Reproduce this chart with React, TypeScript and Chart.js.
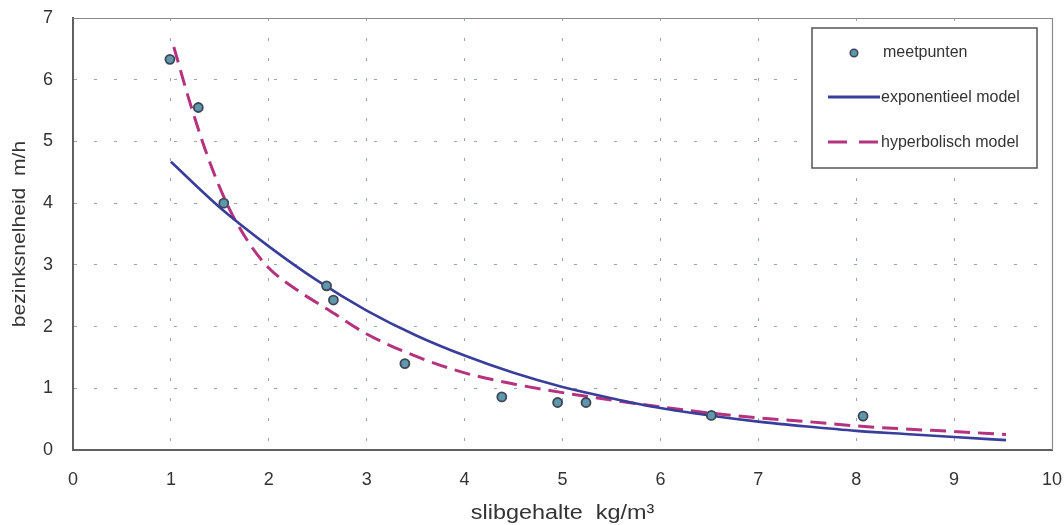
import React, { useEffect, useRef } from "react";
import { Chart, registerables } from "chart.js";

Chart.register(...registerables);

// measured points (meetpunten)
const measX = [0.99, 1.28, 1.54, 2.59, 2.66, 3.39, 4.38, 4.95, 5.24, 6.52, 8.07];
const measY = [6.33, 5.55, 4.0, 2.66, 2.43, 1.4, 0.86, 0.77, 0.77, 0.56, 0.55];

// exponential model
const expX = [1, 1.5, 2, 2.5, 3, 3.5, 4, 4.5, 5, 5.5, 6, 6.5, 7, 7.5, 8, 8.5, 9, 9.53];
const expY = [4.67, 3.93, 3.3, 2.74, 2.26, 1.86, 1.53, 1.25, 1.02, 0.84, 0.68, 0.56, 0.46, 0.38, 0.31, 0.26, 0.21, 0.16];

// hyperbolic model
const hypX = [1.03, 1.2, 1.4, 1.6, 1.8, 2.0, 2.3, 2.6, 3.0, 3.5, 4.0, 4.5, 5.0, 5.5, 6.0, 6.5, 7.0, 7.5, 8.0, 8.5, 9.0, 9.53];
const hypY = [6.53, 5.6, 4.65, 3.9, 3.35, 2.95, 2.58, 2.28, 1.88, 1.52, 1.25, 1.07, 0.93, 0.81, 0.7, 0.6, 0.52, 0.46, 0.39, 0.34, 0.3, 0.25];

const legendLabels = ["meetpunten", "exponentieel model", "hyperbolisch model"];
const xTitle = "slibgehalte  kg/m\u00B3";
const yTitle = "bezinksnelheid  m/h";

const BLUE = "#393e9b";
const MAGENTA = "#b5327e";
const POINT_FILL = "#5f97ad";
const POINT_BORDER = "#3e4756";
const GRID = "#98a3c2";
const TEXT = "#333333";
const AXIS = "#606060";
const FONT = "'Liberation Sans', Arial, sans-serif";

const framePlugin = {
  id: "frame",
  afterDraw(chart: any) {
    const { ctx, chartArea } = chart;
    const { left, right, top, bottom } = chartArea;
    ctx.save();
    ctx.strokeStyle = "#8a8a8a";
    ctx.lineWidth = 1.2;
    ctx.beginPath();
    ctx.moveTo(left, top + 0.5);
    ctx.lineTo(right + 0.5, top + 0.5);
    ctx.lineTo(right + 0.5, bottom);
    ctx.stroke();

    // axis titles
    ctx.fillStyle = TEXT;
    ctx.textBaseline = "alphabetic";
    ctx.textAlign = "center";
    ctx.font = `20px ${FONT}`;
    ctx.save();
    ctx.translate((left + right) / 2, 519);
    ctx.scale(1.17, 1);
    ctx.fillText(xTitle, 0, 0);
    ctx.restore();

    ctx.font = `19px ${FONT}`;
    ctx.save();
    ctx.translate(25, (top + bottom) / 2);
    ctx.rotate(-Math.PI / 2);
    ctx.scale(1.11, 1);
    ctx.fillText(yTitle, 0, 0);
    ctx.restore();

    // legend box
    const bx = 812, by = 28, bw = 225, bh = 140;
    ctx.fillStyle = "#ffffff";
    ctx.fillRect(bx, by, bw, bh);
    ctx.strokeStyle = "#555555";
    ctx.lineWidth = 1.5;
    ctx.strokeRect(bx, by, bw, bh);

    ctx.font = `16px ${FONT}`;
    ctx.fillStyle = TEXT;
    ctx.textBaseline = "middle";
    ctx.textAlign = "left";

    // row 1: marker
    ctx.beginPath();
    ctx.arc(854, 53, 3.8, 0, Math.PI * 2);
    ctx.fillStyle = POINT_FILL;
    ctx.fill();
    ctx.strokeStyle = POINT_BORDER;
    ctx.lineWidth = 1.5;
    ctx.stroke();
    ctx.fillStyle = TEXT;
    ctx.fillText(legendLabels[0], 883, 53);

    // row 2: solid line
    ctx.strokeStyle = BLUE;
    ctx.lineWidth = 3;
    ctx.beginPath();
    ctx.moveTo(828, 97);
    ctx.lineTo(880, 97);
    ctx.stroke();
    ctx.fillText(legendLabels[1], 881, 98);

    // row 3: dashed line
    ctx.strokeStyle = MAGENTA;
    ctx.lineWidth = 3;
    ctx.setLineDash([19, 12]);
    ctx.beginPath();
    ctx.moveTo(828, 142);
    ctx.lineTo(880, 142);
    ctx.stroke();
    ctx.setLineDash([]);
    ctx.fillText(legendLabels[2], 881, 143);
    ctx.restore();
  },
};

export default function App() {
  const ref = useRef<HTMLCanvasElement | null>(null);

  useEffect(() => {
    document.body.style.margin = "0";
    const canvas = ref.current;
    if (!canvas) return;
    const chart = new Chart(canvas, {
      type: "scatter",
      data: {
        datasets: [
          {
            label: legendLabels[0],
            data: measX.map((x, i) => ({ x, y: measY[i] })),
            showLine: false,
            pointRadius: 4.5,
            pointBorderWidth: 1.8,
            pointBackgroundColor: POINT_FILL,
            pointBorderColor: POINT_BORDER,
          },
          {
            label: legendLabels[1],
            data: expX.map((x, i) => ({ x, y: expY[i] })),
            showLine: true,
            borderColor: BLUE,
            borderWidth: 2.6,
            pointRadius: 0,
            cubicInterpolationMode: "monotone",
          },
          {
            label: legendLabels[2],
            data: hypX.map((x, i) => ({ x, y: hypY[i] })),
            showLine: true,
            borderColor: MAGENTA,
            borderWidth: 3,
            borderDash: [16, 8],
            pointRadius: 0,
            cubicInterpolationMode: "monotone",
          },
        ],
      },
      options: {
        animation: false,
        responsive: false,
        maintainAspectRatio: false,
        layout: { padding: { left: 0, right: 12, top: 18, bottom: 0 } },
        plugins: {
          legend: { display: false },
          tooltip: { enabled: false },
        },
        scales: {
          x: {
            type: "linear",
            min: 0,
            max: 10,
            afterFit: (s: any) => {
              s.height = 75;
            },
            ticks: {
              stepSize: 1,
              padding: 0,
              color: TEXT,
              font: { family: FONT, size: 18 },
            },
            grid: {
              color: GRID,
              lineWidth: 1,
              drawTicks: true,
              tickLength: 19,
              tickColor: "rgba(0,0,0,0)",
            },
            border: { display: true, color: AXIS, width: 2, dash: [3, 17] },
            title: { display: false },
          },
          y: {
            type: "linear",
            min: 0,
            max: 7,
            afterFit: (s: any) => {
              s.width = 73;
            },
            ticks: {
              stepSize: 1,
              padding: 0,
              color: TEXT,
              font: { family: FONT, size: 18 },
            },
            grid: {
              color: GRID,
              lineWidth: 1,
              drawTicks: true,
              tickLength: 20,
              tickColor: "rgba(0,0,0,0)",
            },
            border: { display: true, color: AXIS, width: 2, dash: [3, 17] },
            title: { display: false },
          },
        },
      },
      plugins: [framePlugin],
    } as any);
    return () => chart.destroy();
  }, []);

  return (
    <div style={{ width: 1064, height: 525, background: "#fff" }}>
      <canvas ref={ref} width={1064} height={525} style={{ display: "block" }} />
    </div>
  );
}
